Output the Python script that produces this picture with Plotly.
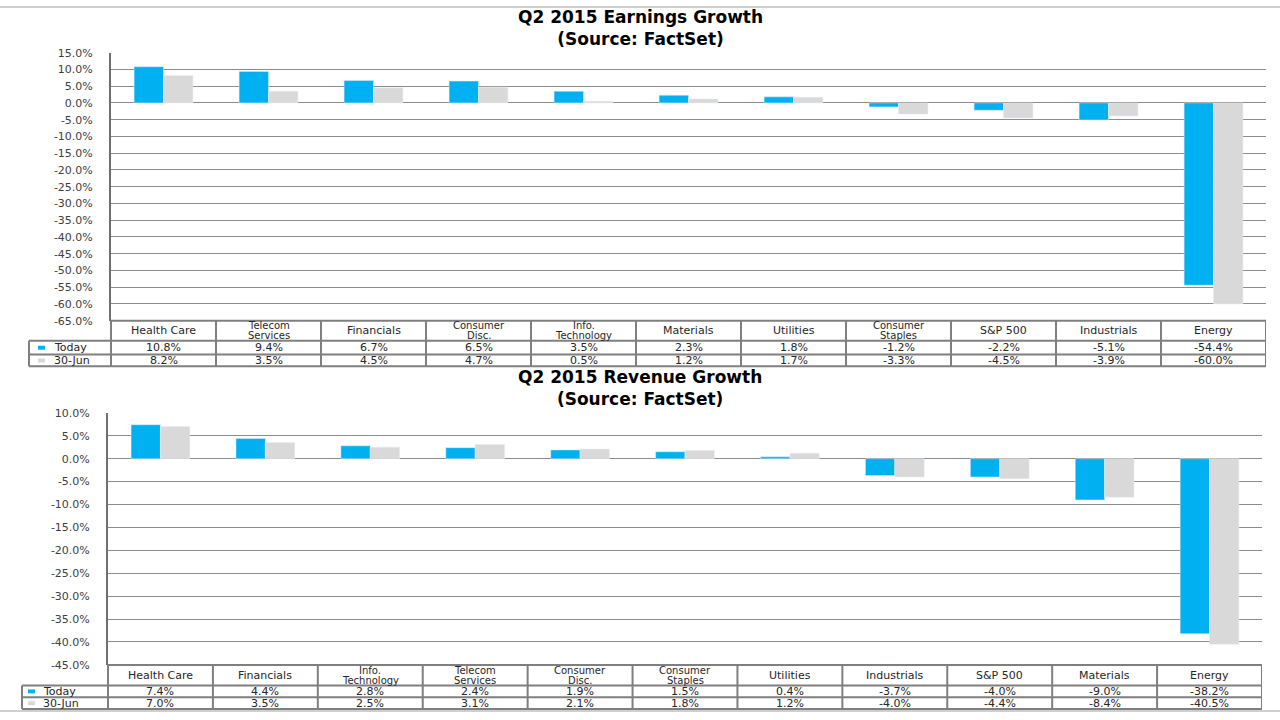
import plotly.graph_objects as go

# ---------------- data ----------------
earn_categories = ["Health Care", "Telecom\nServices", "Financials", "Consumer\nDisc.",
                   "Info.\nTechnology", "Materials", "Utilities", "Consumer\nStaples",
                   "S&P 500", "Industrials", "Energy"]
earn_today = [10.8, 9.4, 6.7, 6.5, 3.5, 2.3, 1.8, -1.2, -2.2, -5.1, -54.4]
earn_jun30 = [8.2, 3.5, 4.5, 4.7, 0.5, 1.2, 1.7, -3.3, -4.5, -3.9, -60.0]
earn_ticks = [15, 10, 5, 0, -5, -10, -15, -20, -25, -30, -35, -40, -45, -50, -55, -60, -65]

rev_categories = ["Health Care", "Financials", "Info.\nTechnology", "Telecom\nServices",
                  "Consumer\nDisc.", "Consumer\nStaples", "Utilities", "Industrials",
                  "S&P 500", "Materials", "Energy"]
rev_today = [7.4, 4.4, 2.8, 2.4, 1.9, 1.5, 0.4, -3.7, -4.0, -9.0, -38.2]
rev_jun30 = [7.0, 3.5, 2.5, 3.1, 2.1, 1.8, 1.2, -4.0, -4.4, -8.4, -40.5]
rev_ticks = [10, 5, 0, -5, -10, -15, -20, -25, -30, -35, -40, -45]

series_names = ["Today", "30-Jun"]
titles = ["Q2 2015 Earnings Growth", "Q2 2015 Revenue Growth"]
subtitle = "(Source: FactSet)"

# ---------------- style ----------------
W, H = 1280, 720
BLUE = "#00B0F0"
GREY = "#D9D9D9"
GRID = "#8C8C8C"
TBL = "#7F7F7F"
TXT = "#262626"
FONT = "DejaVu Sans"


def px(x):
    return x / W


def py(y):
    return 1 - y / H


fig = go.Figure()

panels = [
    dict(cats=earn_categories, a=earn_today, b=earn_jun30, ticks=earn_ticks,
         xa="x", ya="y", x0=111, x1=1266, y0=47.5, y1=320.5,
         rows=[341, 355, 367], legx=38, txtx=52, tbl_left=29,
         title_y=22, title=titles[0]),
    dict(cats=rev_categories, a=rev_today, b=rev_jun30, ticks=rev_ticks,
         xa="x2", ya="y2", x0=108, x1=1262, y0=414.3, y1=671,
         rows=[692, 704, 716], legx=28, txtx=41, tbl_left=22,
         title_y=389, title=titles[1]),
]

shapes = []
annotations = []

for k, p in enumerate(panels):
    xs = list(range(len(p["cats"])))
    fig.add_trace(go.Bar(x=xs, y=p["a"], name=series_names[0], marker_color=BLUE,
                         xaxis=p["xa"], yaxis=p["ya"], showlegend=False))
    fig.add_trace(go.Bar(x=xs, y=p["b"], name=series_names[1], marker_color=GREY,
                         xaxis=p["xa"], yaxis=p["ya"], showlegend=False))

    axsuffix = "" if k == 0 else "2"
    fig.update_layout(**{
        "xaxis" + axsuffix: dict(
            domain=[px(p["x0"]), px(p["x1"])], range=[-0.5, len(xs) - 0.5],
            showticklabels=False, showgrid=False, zeroline=False, showline=False,
            anchor="y" + axsuffix, fixedrange=True),
        "yaxis" + axsuffix: dict(
            domain=[py(p["y1"]), py(p["y0"])],
            range=[min(p["ticks"]), max(p["ticks"])],
            tickvals=p["ticks"], ticktext=[f"{t:.1f}%" for t in p["ticks"]],
            tickfont=dict(family=FONT, size=11, color="#404040"),
            ticklabelstandoff=14,
            showgrid=True, gridcolor=GRID, gridwidth=1,
            zeroline=True, zerolinecolor=GRID, zerolinewidth=1,
            showline=True, linecolor="#707070", linewidth=2,
            anchor="x" + axsuffix, fixedrange=True),
    })

    xref = p["xa"]
    ytop = p["y1"]
    r1, r2, r3 = p["rows"]
    # table horizontal rules
    for yy in (ytop, r1, r2, r3):
        x_start = p["x0"] if yy == ytop else p["tbl_left"]
        shapes.append(dict(type="line", xref="paper", yref="paper",
                           x0=px(x_start), x1=px(p["x1"]), y0=py(yy), y1=py(yy),
                           line=dict(color=TBL, width=2)))
    # table vertical rules
    shapes.append(dict(type="line", xref="paper", yref="paper",
                       x0=px(p["tbl_left"]), x1=px(p["tbl_left"]), y0=py(r1), y1=py(r3),
                       line=dict(color=TBL, width=2)))
    shapes.append(dict(type="line", xref="paper", yref="paper",
                       x0=px(p["x0"]), x1=px(p["x0"]), y0=py(ytop), y1=py(r3),
                       line=dict(color=TBL, width=2)))
    for i in range(len(xs)):
        shapes.append(dict(type="line", xref=xref, yref="paper",
                           x0=i + 0.5, x1=i + 0.5, y0=py(ytop), y1=py(r3),
                           line=dict(color=TBL, width=2)))

    # category headers
    hc = (ytop + r1) / 2
    for i, c in enumerate(p["cats"]):
        lines = c.split("\n")
        n = len(lines)
        for j, ln in enumerate(lines):
            yy = hc + (j - (n - 1) / 2) * 10.5
            annotations.append(dict(xref=xref, yref="paper", x=i, y=py(yy),
                                    text=ln, showarrow=False,
                                    font=dict(family=FONT, size=10 if n > 1 else 11, color=TXT),
                                    xanchor="center", yanchor="middle"))
    # value rows
    for vals, yc in ((p["a"], (r1 + r2) / 2), (p["b"], (r2 + r3) / 2)):
        for i, v in enumerate(vals):
            annotations.append(dict(xref=xref, yref="paper", x=i, y=py(yc),
                                    text=f"{v:.1f}%", showarrow=False,
                                    font=dict(family=FONT, size=11, color=TXT),
                                    xanchor="center", yanchor="middle"))
    # legend keys inside the table
    for name, col, yc in ((series_names[0], BLUE, (r1 + r2) / 2),
                          (series_names[1], GREY, (r2 + r3) / 2)):
        shapes.append(dict(type="rect", xref="paper", yref="paper",
                           x0=px(p["legx"]), x1=px(p["legx"] + 7),
                           y0=py(yc + 2), y1=py(yc - 2),
                           fillcolor=col, line=dict(width=0)))
        annotations.append(dict(xref="paper", yref="paper", x=px(p["txtx"]), y=py(yc),
                                text=name, showarrow=False,
                                font=dict(family=FONT, size=11, color=TXT),
                                xanchor="left", yanchor="middle"))
    # title + subtitle
    annotations.append(dict(xref="paper", yref="paper", x=0.5, y=py(p["title_y"]),
                            text=f"<b>{p['title']}</b><br><b>{subtitle}</b>",
                            showarrow=False, align="center",
                            font=dict(family=FONT, size=17, color="#000000"),
                            xanchor="center", yanchor="middle"))

# thin page frame lines
for yy in (1, 718):
    shapes.append(dict(type="line", xref="paper", yref="paper", x0=0, x1=1,
                       y0=py(yy), y1=py(yy), line=dict(color="#CFCFCF", width=2)))

fig.update_layout(
    width=W, height=H, autosize=False,
    margin=dict(l=0, r=0, t=0, b=0),
    paper_bgcolor="white", plot_bgcolor="white",
    barmode="group", bargap=0.44, bargroupgap=0.0,
    shapes=shapes, annotations=annotations,
    font=dict(family=FONT, color=TXT),
)

fig.write_html("out.html", config={"displayModeBar": False},
               post_script="document.body.style.margin='0px';document.body.style.overflow='hidden';")
